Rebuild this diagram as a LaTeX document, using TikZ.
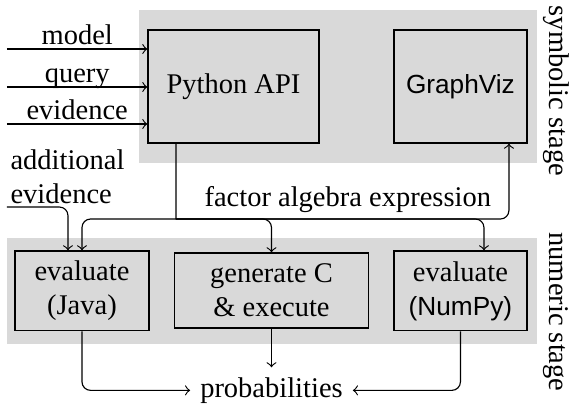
\documentclass[tikz,border=0pt]{standalone}
\usepackage{fontspec}
\setmainfont{Liberation Serif}
\setsansfont[Scale=0.92]{Liberation Sans}
\begin{document}
\begin{tikzpicture}[
    box/.style={shape=rectangle,draw=black,fill=black!15,align=center,inner sep=0pt},
    stagebg/.style={fill=black!15},
    stagelabel/.style={rotate=-90},
    lbl/.style={above,inner sep=1.5pt,text depth=0pt},
    elbow/.style={->,rounded corners=3pt}]
    \useasboundingbox (0,0) rectangle (7.066,4.994);

    % stages
    \fill[stagebg] (1.714,2.984) rectangle (6.621,4.870);
    \fill[stagebg] (0.086,0.752) rectangle (6.621,2.059);
    \node[stagelabel] (sym) at (6.856,3.872) {symbolic stage};
    \node[stagelabel] (num) at (6.856,1.147) {numeric stage};

    \node[box,minimum width=2.108cm,minimum height=1.393cm] (api) at (2.879,3.927) {Python API};
    \node[box,minimum width=1.640cm,minimum height=1.393cm] (gv) at (5.678,3.927) {\textsf{GraphViz}};
    \node[box,minimum width=1.652cm,minimum height=0.986cm] (java) at (1.011,1.406) {evaluate\\(Java)};
    \node[box,minimum width=2.392cm,minimum height=0.925cm] (genc) at (3.348,1.412) {generate C\\\& execute};
    \node[box,minimum width=1.640cm,minimum height=0.986cm] (numpy) at (5.678,1.406) {evaluate\\\textsf{(NumPy)}};
    \node (prob) at (3.348,0.18) {probabilities};
    \node[align=left,anchor=west,inner sep=0pt] (addltxt) at (0.123,2.817) {additional\\evidence};

    % inputs
    \coordinate (model) at (0.086,4.389);
    \coordinate (query) at (0.086,3.921);
    \coordinate (evid) at (0.086,3.465);
    \coordinate (addl) at (0.086,2.441);
    \draw[->] (model) -- node[lbl] {model} (model -| api.west);
    \draw[->] (query) -- node[lbl] {query} (query -| api.west);
    \draw[->] (evid) -- node[lbl] {evidence} (evid -| api.west);

    % factor algebra expression
    \coordinate (bus) at (2.170,2.293);
    \draw ([xshift=-7.09mm]api.south) -- (bus);
    \draw[elbow] (bus) -| node[pos=0.258,above,inner sep=2pt] {factor algebra expression} ([xshift=5.98mm]gv.south);
    \draw[elbow] (bus) -| (java.north);
    \draw[elbow] (bus) -| (genc.north);
    \draw[elbow] (bus) -| ([xshift=2.9mm]numpy.north);
    \draw[elbow] (addl) -| ([xshift=-1.73mm]java.north);

    % outputs
    \draw[elbow] (java.south) |- (prob.west);
    \draw[->] (genc.south) -- (prob.north);
    \draw[elbow] (numpy.south) |- (prob.east);
\end{tikzpicture}
\end{document}
